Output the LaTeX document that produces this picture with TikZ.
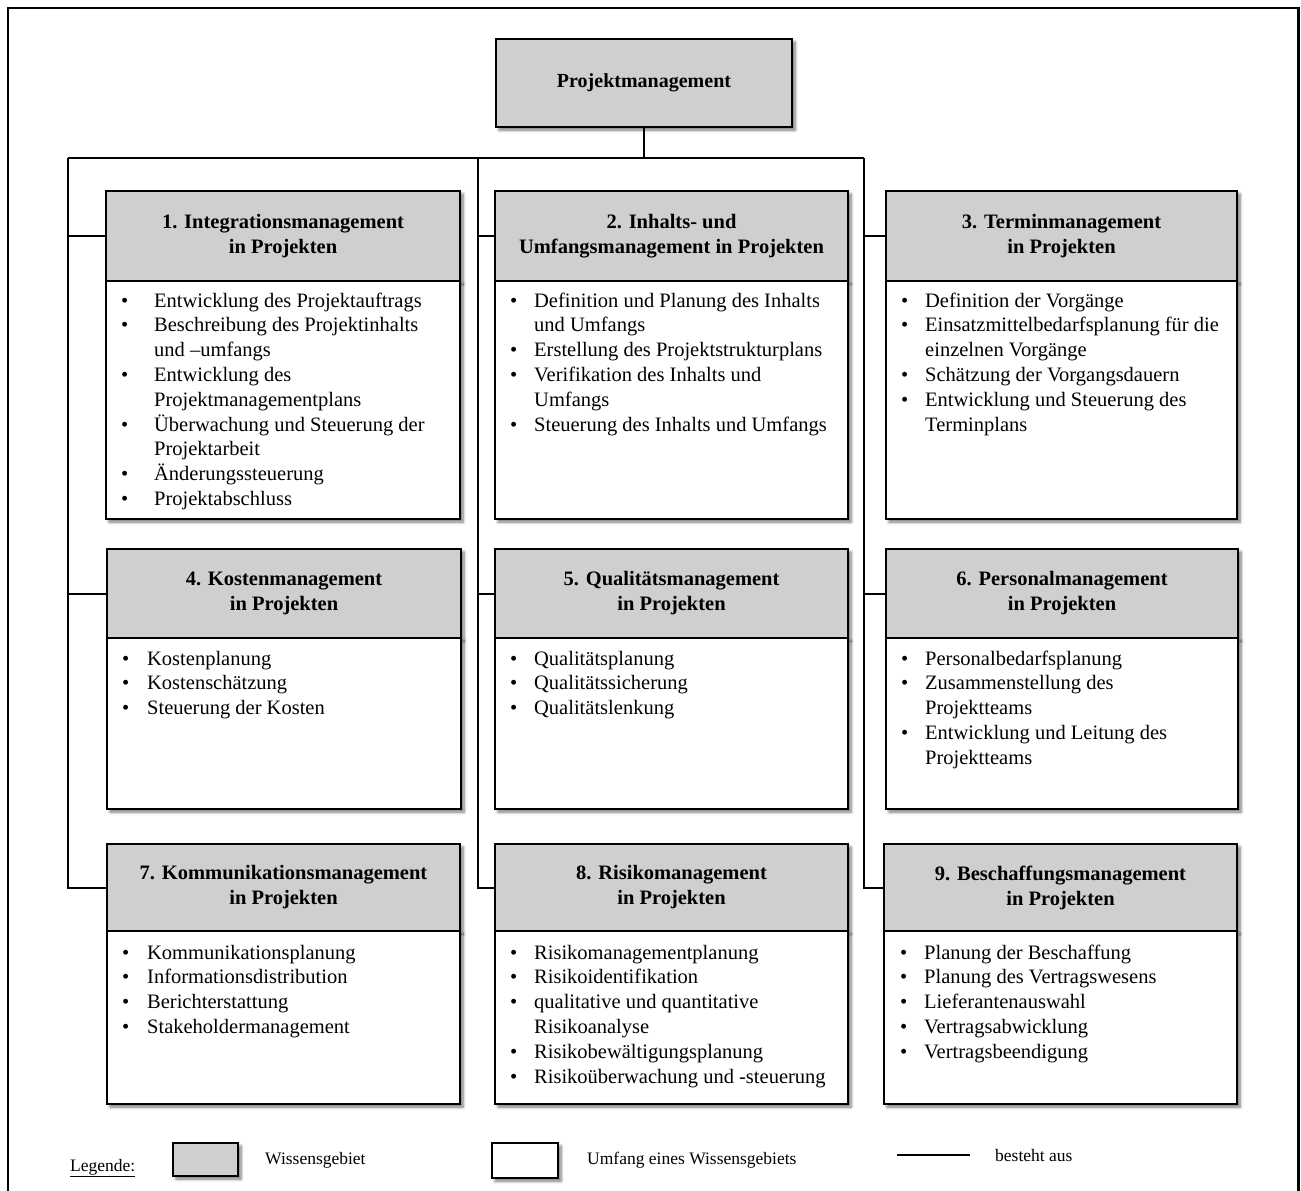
\documentclass[tikz,border=0pt]{standalone}
\usepackage{fontspec}
\setmainfont{Liberation Serif}
\usetikzlibrary{shadows.blur}
\definecolor{boxgray}{RGB}{208,206,206}
\newcommand{\blist}[2]{\begin{tabular}[t]{@{}p{#1}@{}l@{}}#2\end{tabular}}
\tikzset{
  softshadow/.style={blur shadow={shadow xshift=3pt,shadow yshift=-3pt,shadow blur radius=3pt,shadow blur steps=6,shadow opacity=55}},
  hbox/.style={draw, line width=2pt, fill=boxgray, softshadow, anchor=north west, inner sep=0pt, align=center, font=\fontsize{20.5}{25}\selectfont\bfseries},
  bbox/.style={draw, line width=2pt, fill=white, softshadow, anchor=north west, inner sep=0pt},
  btext/.style={anchor=base west, inner sep=0pt, font=\fontsize{20.5}{24.8}\selectfont},
  conn/.style={line width=2pt},
  legtext/.style={anchor=west, inner sep=0pt, font=\fontsize{17.5}{20}\selectfont},
}
\begin{document}
\begin{tikzpicture}[x=1pt,y=-1pt]
\useasboundingbox (0,0) rectangle (1301,1191);
% frame
\draw[line width=2.8pt] (8,1191) -- (8,8) -- (1298.5,8) -- (1298.5,1191);

% bus coordinates
\coordinate (busL) at (68,158);
\coordinate (busM) at (478,158);
\coordinate (busR) at (864,158);

% top node
\node[hbox, minimum width=296pt, minimum height=88pt, font=\fontsize{20}{24}\selectfont\bfseries] (top) at (495,38) {Projektmanagement};

% headers
\path
  (105,190) node[hbox, minimum width=354pt, minimum height=90pt] (h1) {1. Integrationsmanagement\\in Projekten}
  (494,190) node[hbox, minimum width=353pt, minimum height=90pt] (h2) {2. Inhalts- und\\Umfangsmanagement in Projekten}
  (885,190) node[hbox, minimum width=351pt, minimum height=90pt] (h3) {3. Terminmanagement\\in Projekten}
  (106,548) node[hbox, minimum width=354pt, minimum height=89pt] (h4) {4. Kostenmanagement\\in Projekten}
  (494,548) node[hbox, minimum width=353pt, minimum height=89pt] (h5) {5. Qualitätsmanagement\\in Projekten}
  (885,548) node[hbox, minimum width=352pt, minimum height=89pt] (h6) {6. Personalmanagement\\in Projekten}
  (106,843) node[hbox, minimum width=353pt, minimum height=87pt] (h7) {7. Kommunikationsmanagement\\in Projekten}
  (494,843) node[hbox, minimum width=353pt, minimum height=87pt] (h8) {8. Risikomanagement\\in Projekten}
  (883,843) node[hbox, minimum width=353pt, minimum height=87pt] (h9) {9. Beschaffungsmanagement\\in Projekten};

% connectors
\draw[conn] (top.south) -- (top.south |- busL);
\draw[conn] (busL) -- (busR);
\draw[conn] (busL) |- (h1.west);
\draw[conn] (busL) |- (h4.west);
\draw[conn] (busL) |- (h7.west);
\draw[conn] (busM) |- (h2.west);
\draw[conn] (busM) |- (h5.west);
\draw[conn] (busM) |- (h8.west);
\draw[conn] (busR) |- (h3.west);
\draw[conn] (busR) |- (h6.west);
\draw[conn] (busR) |- (h9.west);

% bodies
\path
  (105,280) node[bbox, minimum width=354pt, minimum height=238pt] (b1) {}
  (494,280) node[bbox, minimum width=353pt, minimum height=238pt] (b2) {}
  (885,280) node[bbox, minimum width=351pt, minimum height=238pt] (b3) {}
  (106,637) node[bbox, minimum width=354pt, minimum height=171pt] (b4) {}
  (494,637) node[bbox, minimum width=353pt, minimum height=171pt] (b5) {}
  (885,637) node[bbox, minimum width=352pt, minimum height=171pt] (b6) {}
  (106,930) node[bbox, minimum width=353pt, minimum height=173pt] (b7) {}
  (494,930) node[bbox, minimum width=353pt, minimum height=173pt] (b8) {}
  (883,930) node[bbox, minimum width=353pt, minimum height=173pt] (b9) {};

% body texts
\node[btext] (t1) at (121,307) {\blist{33pt}{%
\textbullet & Entwicklung des Projektauftrags\\
\textbullet & Beschreibung des Projektinhalts\\
 & und –umfangs\\
\textbullet & Entwicklung des\\
 & Projektmanagementplans\\
\textbullet & Überwachung und Steuerung der\\
 & Projektarbeit\\
\textbullet & Änderungssteuerung\\
\textbullet & Projektabschluss}};
\node[btext] (t2) at (510,307) {\blist{24pt}{%
\textbullet & Definition und Planung des Inhalts\\
 & und Umfangs\\
\textbullet & Erstellung des Projektstrukturplans\\
\textbullet & Verifikation des Inhalts und\\
 & Umfangs\\
\textbullet & Steuerung des Inhalts und Umfangs}};
\node[btext] (t3) at (901,307) {\blist{24pt}{%
\textbullet & Definition der Vorgänge\\
\textbullet & Einsatzmittelbedarfsplanung für die\\
 & einzelnen Vorgänge\\
\textbullet & Schätzung der Vorgangsdauern\\
\textbullet & Entwicklung und Steuerung des\\
 & Terminplans}};
\node[btext] (t4) at (122,665) {\blist{25pt}{%
\textbullet & Kostenplanung\\
\textbullet & Kostenschätzung\\
\textbullet & Steuerung der Kosten}};
\node[btext] (t5) at (510,665) {\blist{24pt}{%
\textbullet & Qualitätsplanung\\
\textbullet & Qualitätssicherung\\
\textbullet & Qualitätslenkung}};
\node[btext] (t6) at (901,665) {\blist{24pt}{%
\textbullet & Personalbedarfsplanung\\
\textbullet & Zusammenstellung des\\
 & Projektteams\\
\textbullet & Entwicklung und Leitung des\\
 & Projektteams}};
\node[btext] (t7) at (122,959) {\blist{25pt}{%
\textbullet & Kommunikationsplanung\\
\textbullet & Informationsdistribution\\
\textbullet & Berichterstattung\\
\textbullet & Stakeholdermanagement}};
\node[btext] (t8) at (510,959) {\blist{24pt}{%
\textbullet & Risikomanagementplanung\\
\textbullet & Risikoidentifikation\\
\textbullet & qualitative und quantitative\\
 & Risikoanalyse\\
\textbullet & Risikobewältigungsplanung\\
\textbullet & Risikoüberwachung und -steuerung}};
\node[btext] (t9) at (900,959) {\blist{24pt}{%
\textbullet & Planung der Beschaffung\\
\textbullet & Planung des Vertragswesens\\
\textbullet & Lieferantenauswahl\\
\textbullet & Vertragsabwicklung\\
\textbullet & Vertragsbeendigung}};

% legend
\node[anchor=base west, inner sep=0pt, font=\fontsize{17.5}{20}\selectfont] (leg) at (70,1171) {\underline{Legende:}};
\node[draw, line width=2pt, fill=boxgray, softshadow, anchor=north west, minimum width=65pt, minimum height=33pt, inner sep=0pt] (lg1) at (172,1142) {};
\node[legtext] (lt1) at (265,1160) {Wissensgebiet};
\node[draw, line width=2pt, fill=white, softshadow, anchor=north west, minimum width=66pt, minimum height=35pt, inner sep=0pt] (lg2) at (491,1142) {};
\node[legtext] (lt2) at (587,1160) {Umfang eines Wissensgebiets};
\coordinate (la) at (897,1155);
\coordinate (lb) at (970,1155);
\draw[conn] (la) -- (lb);
\node[legtext] (lt3) at (995,1155) {besteht aus};
\end{tikzpicture}
\end{document}
